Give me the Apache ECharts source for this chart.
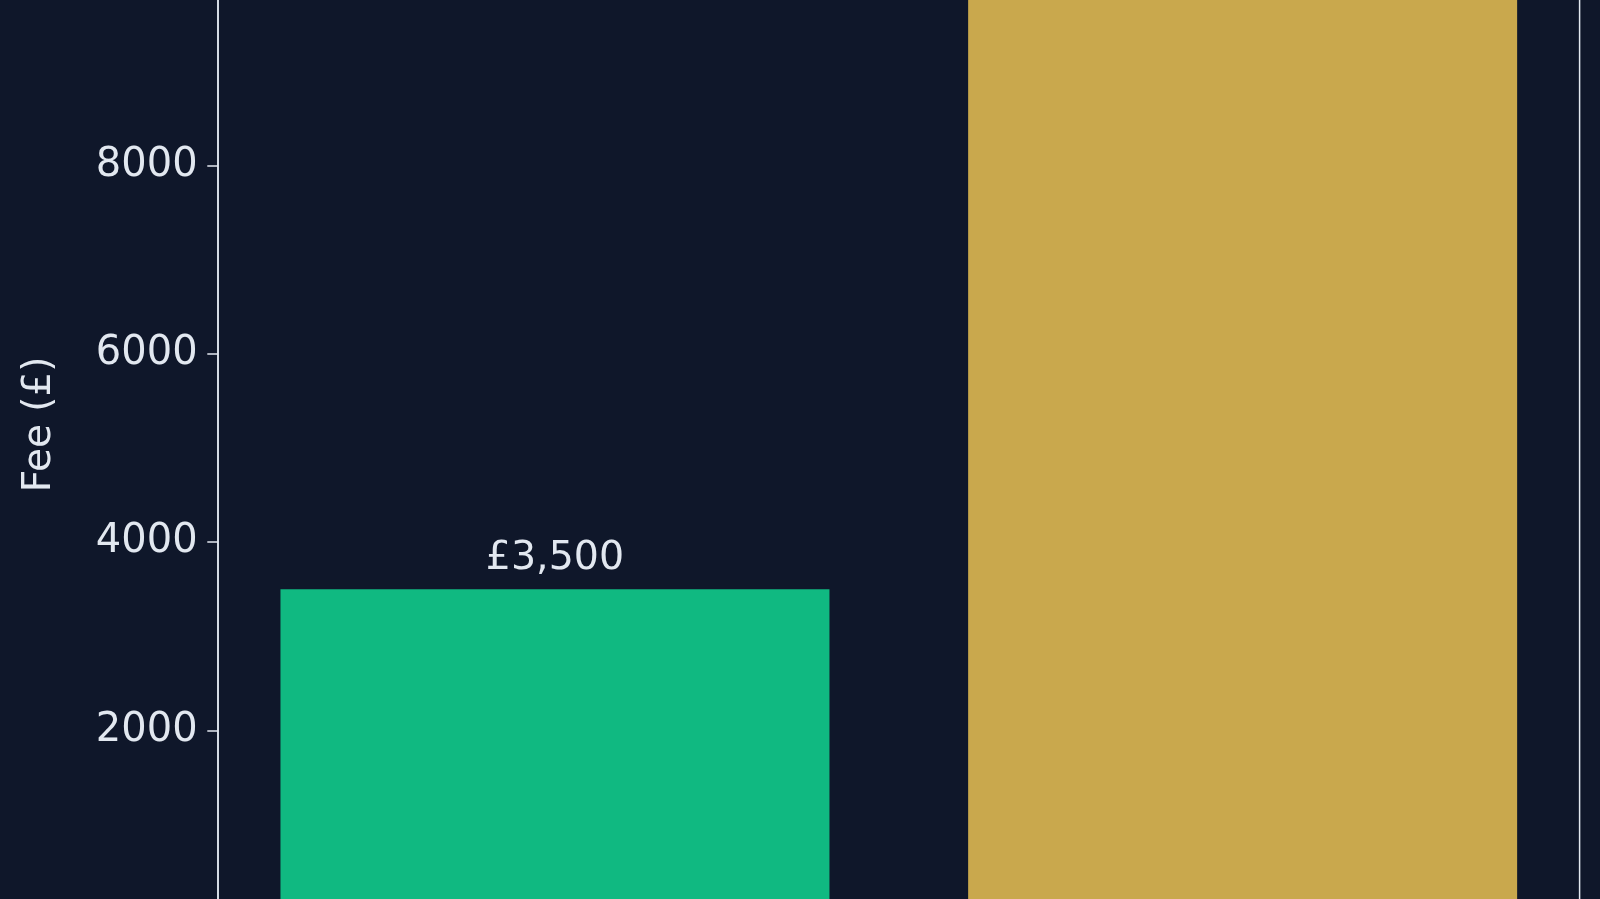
<!DOCTYPE html>
<html>
<head>
<meta charset="utf-8">
<style>
html,body{margin:0;padding:0;background:#0f172a;overflow:hidden;width:1600px;height:899px;}
#chart{position:absolute;left:0;top:-200px;width:1600px;height:1200px;}
</style>
<script src="https://cdn.jsdelivr.net/npm/echarts@6/dist/echarts.min.js"></script>
</head>
<body>
<div id="chart"></div>
<script>
const categories = ['Option A', 'Option B'];
const fees = [3500, 10000];
const barColors = ['#10b981', '#c9a84d'];
const yTicks = [2000, 4000, 6000, 8000, 10000];

const chart = echarts.init(document.getElementById('chart'), null, {renderer: 'canvas'});
const FONT = 'DejaVu Sans';
const TXT = '#e2e8f0';
chart.setOption({
  backgroundColor: '#0f172a',
  animation: false,
  grid: {
    left: 218, right: 20.4, top: 130.1, bottom: 81.3,
    containLabel: false, outerBoundsMode: 'none',
    show: true, borderColor: TXT, borderWidth: 1.5, backgroundColor: 'transparent'
  },
  xAxis: {
    type: 'value', min: -0.49, max: 1.49,
    axisLine: {show: false}, axisTick: {show: false}, axisLabel: {show: false}, splitLine: {show: false}
  },
  yAxis: {
    type: 'value', min: 0, max: 10500, interval: 2000,
    name: 'Fee (£)', nameLocation: 'middle', nameGap: 159,
    nameTextStyle: {color: TXT, fontFamily: FONT, fontSize: 39},
    axisLine: {show: true, onZero: false, lineStyle: {color: TXT, width: 1.5}},
    axisTick: {show: true, length: 10.7, lineStyle: {color: TXT, width: 1.5}},
    axisLabel: {color: TXT, fontFamily: FONT, fontSize: 40, margin: 20.4,
      formatter: v => yTicks.includes(v) ? String(v) : ''},
    splitLine: {show: false}
  },
  series: [{
    type: 'bar',
    barWidth: 549,
    data: fees.map((v, i) => ({value: [i, v], name: categories[i], itemStyle: {color: barColors[i]}})),
    label: {
      show: true, position: 'top', distance: 10,
      color: TXT, fontFamily: FONT, fontSize: 39.5,
      formatter: p => '£' + p.value[1].toLocaleString('en-GB')
    }
  }]
});
</script>
</body>
</html>
